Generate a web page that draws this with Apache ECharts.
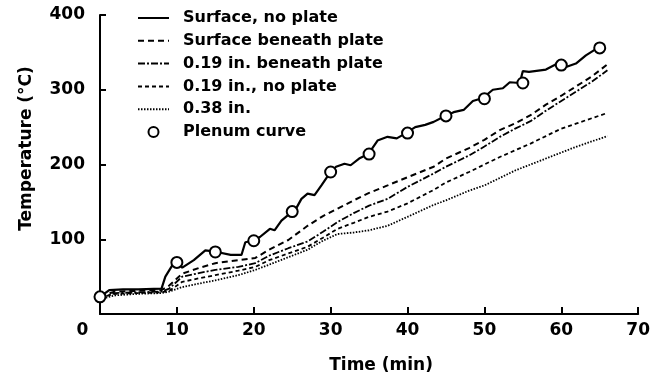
<!DOCTYPE html>
<html>
<head>
<meta charset="utf-8">
<script src="https://cdn.jsdelivr.net/npm/echarts@6/dist/echarts.min.js"></script>
<style>
html,body{margin:0;padding:0;background:#fff;}
#chart{width:653px;height:380px;}
</style>
</head>
<body>
<div id="chart"></div>
<script>
// ---- data ----
const seriesNames = ['Surface, no plate', 'Surface beneath plate', '0.19 in. beneath plate', '0.19 in., no plate', '0.38 in.', 'Plenum curve'];

// Surface, no plate (solid)
const snpTime = [0,1.2,3,5,8,8.5,9.4,10,10.7,12.2,13.7,15.2,17,18.4,18.9,19.9,20.8,22.1,22.7,23.6,25,25.5,26.2,27,27.9,28.8,30,30.7,31.8,32.6,33.7,34.9,36.1,37.4,38.6,39.8,41,42.3,43.4,44.9,46,47.3,48.5,49.8,51.1,52.4,53.3,54.6,55,55.8,58,59.5,60.8,61.9,63.2,64.9,65.5];
const snpTemp = [23,32,33,33,34,50,65,69,62,72,85,83,79,79,96,98,103,114,112,125,137,141,154,161,159,172,190,197,201,199,208,214,232,237,235,242,250,253,257,265,270,273,285,289,300,302,310,309,325,324,327,335,331,335,346,357,360];

// the four lower curves share one time base
const lowTime = [0,2,5,8,9,10.7,13,15,18,20.2,22,24.5,27,29,30.9,33,35,37.4,40,43.4,45,48,50,52,54,56,58,60,62,64,66];
const sbpTemp = [24,30,31,32,38,54,62,68,72,75,86,99,118,131,141,152,162,172,183,197,208,222,233,246,255,266,280,292,305,318,334];
const p19bTemp = [22,28,29,30,34,50,55,59,63,68,78,88,97,110,123,135,145,154,170,188,197,212,224,237,248,258,272,285,298,311,326];
const p19nTemp = [22,27,28,29,31,43,48,52,58,63,72,81,90,102,114,122,130,137,148,166,176,190,200,210,219,228,238,248,255,262,269];
const p38Temp = [20,25,27,28,30,36,41,45,52,59,66,76,86,98,107,109,112,118,130,146,152,165,172,182,192,200,208,216,224,231,238];

// Plenum curve (circles)
const plTime = [0,10,15,20,25,30,35,40,45,50,55,60,65];
const plTemp = [23,69,83,98,137,190,214,242,265,288,309,333,356];

const xTicks = [0,10,20,30,40,50,60,70];
const yTicks = [100,200,300,400];

// ---- build ----
const zip = (a, b) => a.map((v, i) => [v, b[i]]);
const FONT = 'DejaVu Sans';
const lbl = {color:'#000', fontFamily:FONT, fontWeight:'bold', fontSize:17};

function lineSeries(name, t, v, type, width) {
  return {
    name: name, type: 'line', data: zip(t, v),
    showSymbol: false, symbol: 'none', smooth: false, clip: false,
    lineStyle: {color:'#000', width: width, type: type, cap:'butt'},
    itemStyle: {color:'#000'},
    emphasis: {disabled: true}
  };
}

const legendData = seriesNames.map((n, i) => i < 5
  ? {name: n, itemStyle: {opacity: 0}}
  : {name: n});

const chart = echarts.init(document.getElementById('chart'), null, {renderer:'canvas'});
chart.setOption({
  animation: false,
  backgroundColor: '#fff',
  grid: {left: 100, right: 10, top: 15, bottom: 66, containLabel: false},
  legend: {
    orient: 'vertical', left: 132, top: 5,
    itemWidth: 31, itemHeight: 10, itemGap: 6.8,
    data: legendData,
    textStyle: {color:'#000', fontFamily:FONT, fontWeight:'bold', fontSize:16, padding:[0,0,0,9]},
    selectedMode: false
  },
  xAxis: {
    type: 'value', min: xTicks[0], max: xTicks[xTicks.length-1], interval: 10,
    name: 'Time (min)', nameLocation: 'middle', nameGap: 43,
    nameTextStyle: Object.assign({}, lbl, {padding:[0,0,0,24]}),
    axisLine: {show:true, onZero:false, lineStyle:{color:'#000', width:2}},
    axisTick: {show:true, inside:true, length:7, lineStyle:{color:'#000', width:2}},
    splitLine: {show:false},
    axisLabel: Object.assign({}, lbl, {
      margin: 8,
      formatter: function (v) { return v === 0 ? '{z|0}' : String(v); },
      rich: {z: Object.assign({}, lbl, {padding:[0,35,0,0]})}
    })
  },
  yAxis: {
    type: 'value', min: 0, max: yTicks[yTicks.length-1], interval: 100,
    name: 'Temperature (°C)', nameLocation: 'middle', nameGap: 65,
    nameTextStyle: Object.assign({}, lbl, {padding:[0,0,0,32]}),
    axisLine: {show:true, lineStyle:{color:'#000', width:2}},
    axisTick: {show:true, inside:true, length:6, lineStyle:{color:'#000', width:2}},
    splitLine: {show:false},
    axisLabel: Object.assign({}, lbl, {margin: 15, showMinLabel: false,
      formatter: function (v) { return yTicks.indexOf(v) >= 0 ? String(v) : ''; }})
  },
  series: [
    lineSeries(seriesNames[0], snpTime, snpTemp, 'solid', 2.2),
    lineSeries(seriesNames[1], lowTime, sbpTemp, [6,4], 2),
    lineSeries(seriesNames[2], lowTime, p19bTemp, [7,2,2,2], 1.8),
    lineSeries(seriesNames[3], lowTime, p19nTemp, [4,3], 1.8),
    lineSeries(seriesNames[4], lowTime, p38Temp, [1.5,1.5], 1.8),
    {
      name: seriesNames[5], type: 'scatter', data: zip(plTime, plTemp),
      symbol: 'circle', symbolSize: 11, clip: false, z: 5,
      itemStyle: {color:'#fff', borderColor:'#000', borderWidth:2, opacity:1},
      emphasis: {disabled: true}
    }
  ]
});
</script>
</body>
</html>
